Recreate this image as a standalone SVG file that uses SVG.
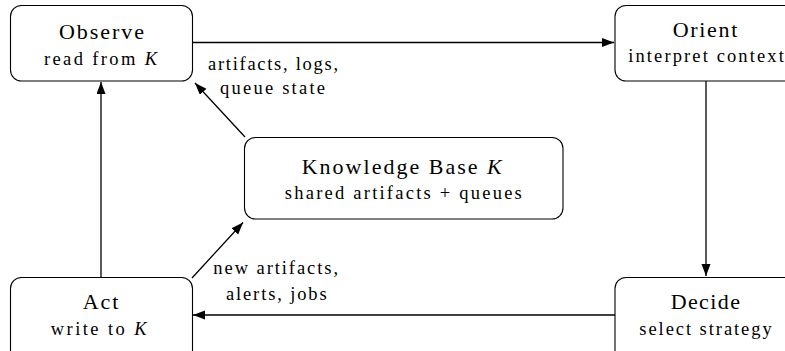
<svg xmlns="http://www.w3.org/2000/svg" width="785" height="351" viewBox="0 0 785 351">
  <defs>
    <marker id="arr" markerUnits="userSpaceOnUse" markerWidth="13" markerHeight="10" refX="12" refY="4.5" orient="auto">
      <path d="M0,0 L12,4.5 L0,9 Z" fill="#000"/>
    </marker>
  </defs>
  <style>
    .box { fill: #fff; stroke: #000; stroke-width: 1.1; }
    .t { font-family: "Liberation Serif", "Times New Roman", serif; font-size: 22px; fill: #000; text-anchor: middle; }
    .s { font-family: "Liberation Serif", "Times New Roman", serif; font-size: 18.5px; fill: #000; text-anchor: middle; }
    .i { font-style: italic; }
    .c { fill: none; stroke: #000; stroke-width: 1.3; marker-end: url(#arr); }
  </style>
  <rect width="785" height="351" fill="#fff"/>

  <g id="connectors">
    <line class="c" x1="193" y1="42.5" x2="614" y2="42.5"/>
    <line class="c" x1="706" y1="81" x2="706" y2="276"/>
    <line class="c" x1="615" y1="315" x2="193" y2="315"/>
    <line class="c" x1="101" y1="277" x2="101" y2="82"/>
    <line class="c" x1="245" y1="137" x2="195" y2="83"/>
    <line class="c" x1="192" y1="278" x2="243" y2="222.5"/>
    <text class="s" x="273" y="70" textLength="130">artifacts, logs,</text>
    <text class="s" x="272.5" y="94" textLength="105">queue state</text>
    <text class="s" x="275.7" y="274" textLength="124.7">new artifacts,</text>
    <text class="s" x="276.3" y="300" textLength="100.7">alerts, jobs</text>
  </g>

  <g id="observe">
    <rect class="box" x="10.5" y="5.5" width="182" height="75.5" rx="11"/>
    <text class="t" x="101.5" y="39" textLength="85">Observe</text>
    <text class="s" x="100.5" y="65" textLength="113">read from <tspan class="i">K</tspan></text>
  </g>

  <g id="orient">
    <rect class="box" x="615" y="5.5" width="182" height="75.5" rx="11"/>
    <text class="t" x="705" y="37" textLength="64.7">Orient</text>
    <text class="s" x="706" y="62" textLength="155.7">interpret context</text>
  </g>

  <g id="kb">
    <rect class="box" x="244.5" y="137.5" width="318.5" height="81.5" rx="11"/>
    <text class="t" x="401.7" y="174" textLength="200">Knowledge Base <tspan class="i">K</tspan></text>
    <text class="s" x="403.3" y="199" textLength="237">shared artifacts + queues</text>
  </g>

  <g id="act">
    <rect class="box" x="10.5" y="277.5" width="182" height="85" rx="11"/>
    <text class="t" x="100.5" y="309" textLength="35.7">Act</text>
    <text class="s" x="98.7" y="335" textLength="96">write to <tspan class="i">K</tspan></text>
  </g>

  <g id="decide">
    <rect class="box" x="615" y="277.5" width="182" height="85" rx="11"/>
    <text class="t" x="705.3" y="309" textLength="69.3">Decide</text>
    <text class="s" x="705.5" y="335" textLength="132.4">select strategy</text>
  </g>
</svg>
